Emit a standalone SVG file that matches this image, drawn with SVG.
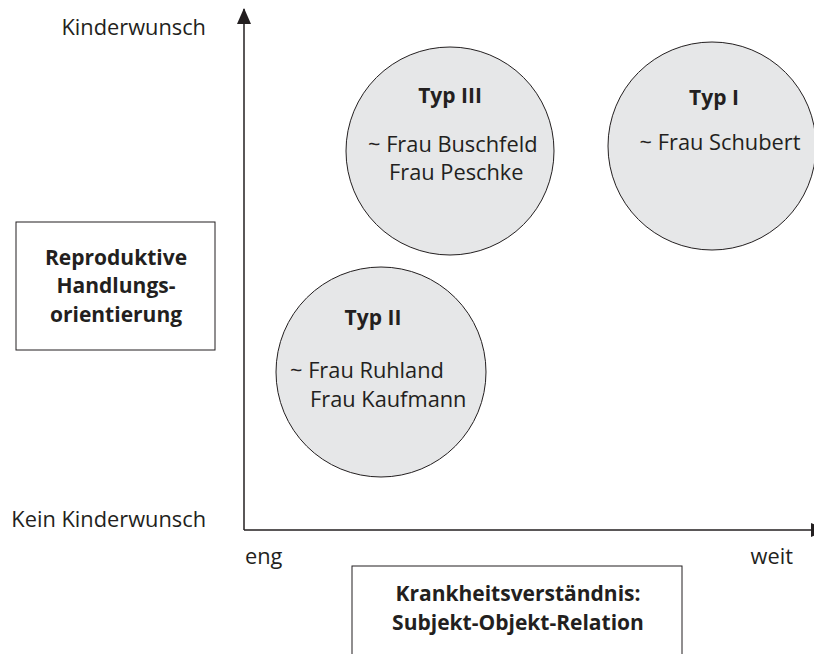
<svg xmlns="http://www.w3.org/2000/svg" width="814" height="654" viewBox="0 0 814 654">
<style>
text{font-family:"Open Sans","Noto Sans","Liberation Sans",sans-serif;font-size:21.8px;fill:#231f20}
.b{font-weight:bold;font-size:21px}
.c{text-anchor:middle}
.circ{fill:#e6e7e8;stroke:#231f20;stroke-width:1}
.box{fill:#fff;stroke:#231f20;stroke-width:1}
.axis{stroke:#231f20;stroke-width:1.5;fill:none}
</style>
<defs>
<marker id="ah" viewBox="0 0 16 14" refX="15" refY="7" markerWidth="16" markerHeight="14" markerUnits="userSpaceOnUse" orient="auto">
<path d="M0,0 L16,7 L0,14 Z" fill="#231f20"/>
</marker>
</defs>
<rect width="814" height="654" fill="#fff"/>
<g id="connectors">
<line class="axis" x1="244" y1="530" x2="244" y2="9" marker-end="url(#ah)"/>
<line class="axis" x1="244" y1="530" x2="826" y2="530" marker-end="url(#ah)"/>
</g>
<g id="axis-labels">
<text x="206" y="35" text-anchor="end">Kinderwunsch</text>
<text x="206" y="527" text-anchor="end">Kein Kinderwunsch</text>
<text x="245" y="564">eng</text>
<text x="793" y="564" text-anchor="end">weit</text>
</g>
<g id="y-label">
<rect class="box" x="16" y="222" width="199" height="128"/>
<text class="b c" x="116" y="265">Reproduktive</text>
<text class="b c" x="116" y="293">Handlungs-</text>
<text class="b c" x="116" y="322">orientierung</text>
</g>
<g id="x-label">
<rect class="box" x="352" y="566" width="330" height="100"/>
<text class="b c" x="518" y="601">Krankheitsverständnis:</text>
<text class="b c" x="518" y="630">Subjekt-Objekt-Relation</text>
</g>
<g id="typ3">
<circle class="circ" cx="450" cy="151" r="104"/>
<text class="b c" x="450" y="103">Typ III</text>
<text x="368" y="152">~ Frau Buschfeld</text>
<text x="389" y="180">Frau Peschke</text>
</g>
<g id="typ1">
<circle class="circ" cx="712" cy="146" r="104"/>
<text class="b c" x="714" y="105">Typ I</text>
<text class="c" x="720" y="150">~ Frau Schubert</text>
</g>
<g id="typ2">
<circle class="circ" cx="381" cy="372" r="105"/>
<text class="b c" x="373" y="325">Typ II</text>
<text x="290" y="378">~ Frau Ruhland</text>
<text x="310" y="407">Frau Kaufmann</text>
</g>
</svg>
